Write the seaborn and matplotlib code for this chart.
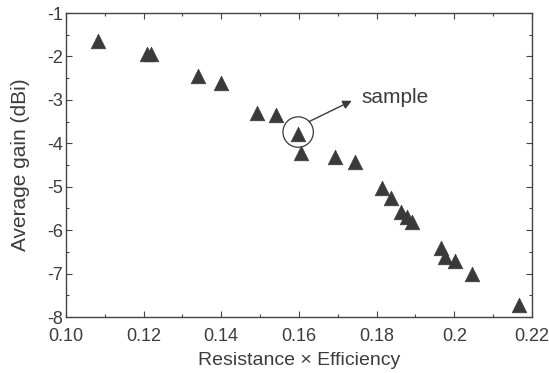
import matplotlib
matplotlib.use("Agg")
import matplotlib.pyplot as plt
import seaborn as sns
import pandas as pd
from matplotlib.ticker import MultipleLocator, FixedLocator

# Datos
resistance_eff = [0.1082, 0.1209, 0.1220, 0.1339, 0.1400, 0.1491, 0.1540, 0.1598,
                  0.1606, 0.1693, 0.1745, 0.1814, 0.1836, 0.1862, 0.1877, 0.1892,
                  0.1967, 0.1976, 0.2003, 0.2046, 0.2167]
avg_gain = [-1.65, -1.94, -1.95, -2.45, -2.62, -3.31, -3.35, -3.79,
            -4.23, -4.31, -4.43, -5.03, -5.25, -5.57, -5.70, -5.82,
            -6.41, -6.61, -6.71, -7.00, -7.73]
sample_idx = 7

x_ticks = [0.10, 0.12, 0.14, 0.16, 0.18, 0.20, 0.22]
x_tick_labels = ["0.10", "0.12", "0.14", "0.16", "0.18", "0.2", "0.22"]
y_ticks = [-1, -2, -3, -4, -5, -6, -7, -8]

df = pd.DataFrame({"x": resistance_eff, "y": avg_gain})

# Estilo
sns.set_style("ticks")
plt.rcParams["font.family"] = ["Liberation Sans", "DejaVu Sans"]
plt.rcParams["axes.unicode_minus"] = False
text_col = "#3c3c3c"

fig = plt.figure(figsize=(5.49, 3.73), dpi=100)
ax = fig.add_axes([0.120, 0.150, 0.849, 0.815])

sns.scatterplot(data=df, x="x", y="y", marker="^", s=110, color="#3a3a3a",
                edgecolor="#3a3a3a", linewidth=0.5, ax=ax, legend=False)

# Círculo alrededor de la muestra
ax.scatter([resistance_eff[sample_idx]], [avg_gain[sample_idx] + 0.05], marker="o", s=480,
           facecolors="none", edgecolors="#3a3a3a", linewidths=0.9)

# Flecha y texto "sample"
ax.annotate("", xy=(0.1736, -3.02), xytext=(0.1626, -3.50),
            arrowprops=dict(arrowstyle="-|>", color="#3a3a3a", lw=1.0,
                            mutation_scale=13, shrinkA=0, shrinkB=0))
ax.text(0.1760, -2.94, "sample", fontsize=15, color=text_col, va="center", ha="left")

ax.set_xlim(0.10, 0.22)
ax.set_ylim(-8, -1)
ax.xaxis.set_major_locator(FixedLocator(x_ticks))
ax.set_xticklabels(x_tick_labels)
ax.xaxis.set_minor_locator(MultipleLocator(0.01))
ax.yaxis.set_major_locator(FixedLocator(y_ticks))
ax.yaxis.set_minor_locator(MultipleLocator(0.5))
ax.tick_params(which="both", direction="in", top=True, right=True, colors="#444444",
               labelcolor=text_col, labelsize=13, width=0.8)
ax.tick_params(axis="x", which="major", length=4, pad=8)
ax.tick_params(axis="y", which="major", length=4, pad=2)
ax.tick_params(which="minor", length=2.5)
for sp in ax.spines.values():
    sp.set_visible(True)
    sp.set_color("#444444")
    sp.set_linewidth(1.0)

ax.set_xlabel("Resistance \u00d7 Efficiency", fontsize=14, color=text_col, labelpad=5)
ax.set_ylabel("Average gain (dBi)", fontsize=15, color=text_col, labelpad=12)

plt.savefig("out.png", dpi=100)
plt.close()
